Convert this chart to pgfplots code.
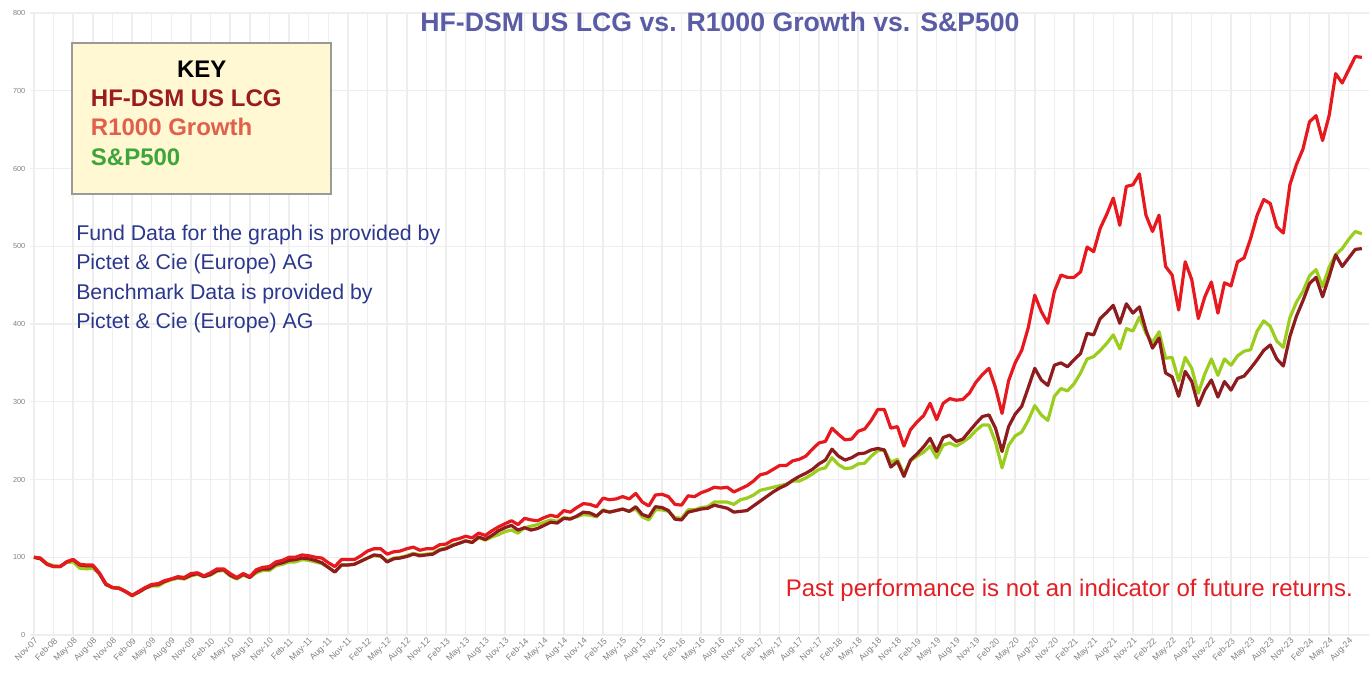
\documentclass[border=0pt]{standalone}
\usepackage{pgfplots}
\usepackage{pgfplotstable}
\pgfplotsset{compat=1.18}
\usepackage{fontspec}
\setmainfont{Liberation Sans}
\definecolor{titleblue}{RGB}{90,92,165}
\definecolor{navy}{RGB}{43,55,140}
\definecolor{pastred}{RGB}{227,30,36}
\definecolor{rline}{RGB}{232,25,30}
\definecolor{dline}{RGB}{142,27,30}
\definecolor{gline}{RGB}{155,205,30}
\definecolor{keydark}{RGB}{155,28,28}
\definecolor{keysalmon}{RGB}{224,96,76}
\definecolor{keygreen}{RGB}{61,165,58}
\definecolor{keyfill}{RGB}{255,248,210}
\definecolor{keyborder}{RGB}{154,154,154}
\definecolor{gridc}{RGB}{238,238,238}
\pgfplotstableread{
m lcg r1000 sp
0 100 100 100
1 98 99 98
2 91 91 92
3 88 88 89
4 88 88 88
5 94 94 93
6 97 97 94
7 90 91 86
8 89 90 85
9 89 90 86
10 79 80 79
11 65 66 65
12 61 61 61
13 60 60 61
14 56 56 56
15 51 51 50
16 55 56 55
17 60 61 60
18 64 65 63
19 65 66 63
20 69 70 68
21 72 72 71
22 74 75 73
23 73 74 72
24 77 79 76
25 79 80 78
26 75 76 75
27 78 80 77
28 83 85 82
29 84 85 83
30 77 79 76
31 73 74 72
32 78 79 77
33 74 75 74
34 82 84 80
35 85 87 83
36 85 88 83
37 91 94 89
38 93 96 91
39 96 100 94
40 97 100 94
41 99 103 97
42 98 102 96
43 96 100 94
44 93 99 92
45 87 93 87
46 81 88 81
47 90 97 90
48 90 97 90
49 91 97 91
50 95 102 95
51 99 108 99
52 103 111 102
53 102 111 101
54 94 104 95
55 98 107 99
56 99 108 100
57 101 111 102
58 104 113 105
59 102 109 103
60 103 111 104
61 104 111 105
62 109 116 110
63 111 117 112
64 115 122 116
65 118 124 118
66 121 127 121
67 119 125 119
68 126 131 125
69 123 128 122
70 128 134 126
71 134 139 129
72 138 143 133
73 141 147 135
74 135 142 131
75 138 150 138
76 135 148 140
77 137 147 142
78 141 151 145
79 145 154 148
80 144 152 146
81 150 160 151
82 149 158 150
83 153 164 152
84 158 169 155
85 157 168 154
86 153 165 152
87 160 176 161
88 158 174 158
89 160 175 160
90 162 178 162
91 159 175 159
92 165 182 162
93 155 171 152
94 152 166 148
95 165 180 161
96 164 181 161
97 160 178 159
98 149 168 151
99 148 167 150
100 158 179 161
101 160 178 161
102 162 183 164
103 163 186 165
104 167 190 171
105 165 189 171
106 163 190 171
107 158 184 168
108 159 188 174
109 160 192 176
110 166 198 180
111 172 206 186
112 178 208 188
113 184 213 190
114 189 218 192
115 193 218 194
116 199 224 198
117 204 226 198
118 208 230 202
119 213 239 207
120 220 247 213
121 225 249 215
122 239 266 228
123 230 258 219
124 225 251 214
125 228 252 215
126 233 262 220
127 234 265 221
128 238 276 230
129 240 290 237
130 238 290 238
131 216 266 222
132 223 268 226
133 204 243 207
134 225 264 224
135 233 274 230
136 242 282 235
137 253 298 243
138 236 277 228
139 254 298 244
140 257 304 247
141 249 302 243
142 252 303 248
143 262 311 254
144 272 325 263
145 281 335 270
146 283 343 270
147 266 318 248
148 236 285 215
149 268 327 244
150 284 350 256
151 294 366 261
152 318 395 276
153 343 437 295
154 328 416 283
155 321 401 276
156 347 442 307
157 350 463 317
158 345 460 314
159 354 460 323
160 362 467 337
161 388 499 355
162 386 493 358
163 407 523 366
164 415 541 375
165 424 562 386
166 401 527 368
167 426 577 394
168 414 579 391
169 422 593 409
170 392 540 388
171 369 519 376
172 382 540 390
173 337 474 356
174 332 463 357
175 307 418 327
176 339 480 357
177 326 457 343
178 295 407 311
179 315 435 336
180 328 454 355
181 306 414 334
182 326 453 355
183 315 449 347
184 330 480 359
185 333 485 365
186 343 510 367
187 354 540 391
188 366 560 404
189 373 555 397
190 355 525 378
191 346 517 370
192 384 579 408
193 410 605 428
194 430 625 442
195 452 660 462
196 460 668 470
197 435 636 448
198 461 668 473
199 489 722 489
200 474 710 497
201 485 727 509
202 496 744 519
203 497 743 516
}\datatable
\begin{document}
\begin{tikzpicture}
\begin{axis}[
  at={(22.5pt,29.25pt)}, anchor=south west,
  scale only axis, width=1004.25pt, height=466.5pt,
  xmin=-0.6, xmax=204.1, ymin=0, ymax=800,
  axis line style={draw=none},
  major tick length=0pt,
  xtick={0,3,...,201},
  xticklabels={Nov-07,Feb-08,May-08,Aug-08,Nov-08,Feb-09,May-09,Aug-09,Nov-09,Feb-10,May-10,Aug-10,Nov-10,Feb-11,May-11,Aug-11,Nov-11,Feb-12,May-12,Aug-12,Nov-12,Feb-13,May-13,Aug-13,Nov-13,Feb-14,May-14,Aug-14,Nov-14,Feb-15,May-15,Aug-15,Nov-15,Feb-16,May-16,Aug-16,Nov-16,Feb-17,May-17,Aug-17,Nov-17,Feb-18,May-18,Aug-18,Nov-18,Feb-19,May-19,Aug-19,Nov-19,Feb-20,May-20,Aug-20,Nov-20,Feb-21,May-21,Aug-21,Nov-21,Feb-22,May-22,Aug-22,Nov-22,Feb-23,May-23,Aug-23,Nov-23,Feb-24,May-24,Aug-24},
  ytick={0,100,...,800},
  xmajorgrids, ymajorgrids,
  major grid style={draw=gridc, line width=1.1pt},
  xticklabel style={rotate=45, anchor=north east, font=\fontsize{6.5}{7}\selectfont, text=gray, inner sep=1pt},
  yticklabel style={font=\fontsize{5.5}{6}\selectfont, text=gray},
  /pgf/number format/assume math mode=true,
  clip=false,
]
\addplot[gline, line width=2.4pt, line join=round] table[x=m, y=sp] {\datatable};
\addplot[dline, line width=2.4pt, line join=round] table[x=m, y=lcg] {\datatable};
\addplot[rline, line width=2.4pt, line join=round] table[x=m, y=r1000] {\datatable};
\end{axis}
\node[anchor=base, inner sep=0, text=titleblue, font=\fontsize{20}{24}\selectfont\bfseries] at (540pt,481.9pt) {HF-DSM US LCG vs. R1000 Growth vs. S\&P500};
\draw[keyborder, line width=1.5pt, fill=keyfill] (54pt,360pt) rectangle (248.25pt,473.25pt);
\node[anchor=base, inner sep=0, font=\fontsize{18}{20}\selectfont\bfseries] at (151.3pt,447pt) {KEY};
\node[anchor=base west, inner sep=0, text=keydark, font=\fontsize{18}{20}\selectfont\bfseries] at (68pt,425.25pt) {HF-DSM US LCG};
\node[anchor=base west, inner sep=0, text=keysalmon, font=\fontsize{18}{20}\selectfont\bfseries] at (68pt,403.5pt) {R1000 Growth};
\node[anchor=base west, inner sep=0, text=keygreen, font=\fontsize{18}{20}\selectfont\bfseries] at (68pt,381pt) {S\&P500};
\node[anchor=base west, inner sep=0, text=navy, font=\fontsize{16}{18}\selectfont] at (57pt,324.75pt) {Fund Data for the graph is provided by};
\node[anchor=base west, inner sep=0, text=navy, font=\fontsize{16}{18}\selectfont] at (57pt,303pt) {Pictet \& Cie (Europe) AG};
\node[anchor=base west, inner sep=0, text=navy, font=\fontsize{16}{18}\selectfont] at (57pt,280.5pt) {Benchmark Data is provided by};
\node[anchor=base west, inner sep=0, text=navy, font=\fontsize{16}{18}\selectfont] at (57pt,258.75pt) {Pictet \& Cie (Europe) AG};
\node[anchor=base east, inner sep=0, text=pastred, font=\fontsize{18}{20}\selectfont] at (1014.75pt,57.75pt) {Past performance is not an indicator of future returns.};
\pgfresetboundingbox
\useasboundingbox (0,0) rectangle (1026.75pt,505.5pt);
\end{tikzpicture}
\end{document}
